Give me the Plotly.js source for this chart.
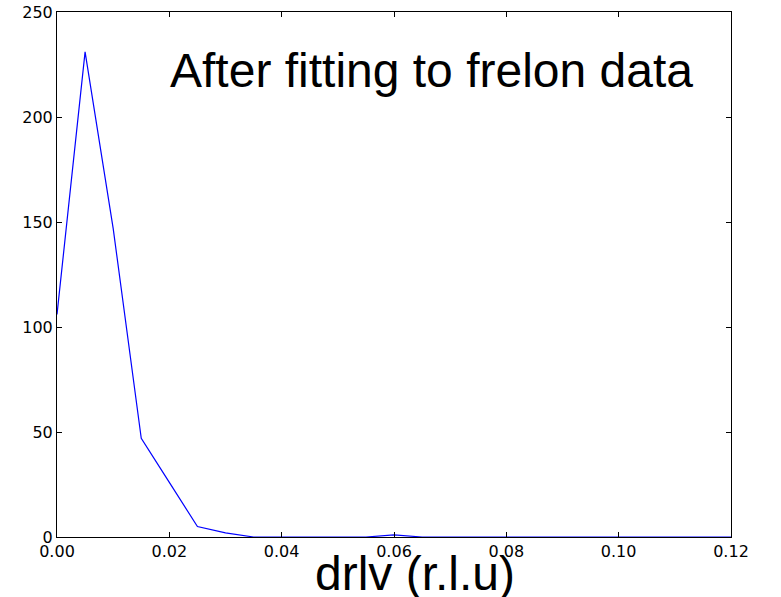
<!DOCTYPE html>
<html>
<head>
<meta charset="utf-8">
<script src="https://cdn.plot.ly/plotly-3.0.1.min.js"></script>
<style>html,body{margin:0;padding:0;background:#fff;}</style>
</head>
<body>
<div id="chart" style="width:781px;height:597px;"></div>
<script>
var drlv = [0.000, 0.005, 0.010, 0.015, 0.020, 0.025, 0.030, 0.035, 0.040, 0.045, 0.050, 0.055, 0.060, 0.065, 0.070, 0.075, 0.080, 0.085, 0.090, 0.095, 0.100, 0.105, 0.110, 0.115, 0.120];
var counts = [106, 231, 147, 47, 26, 5, 2, 0, 0, 0, 0, 0, 1, 0, 0, 0, 0, 0, 0, 0, 0, 0, 0, 0, 0];
var xTicks = [0.00, 0.02, 0.04, 0.06, 0.08, 0.10, 0.12];
var xTickText = ["0.00", "0.02", "0.04", "0.06", "0.08", "0.10", "0.12"];
var yTicks = [0, 50, 100, 150, 200, 250];
var annotationText = "After fitting to frelon data";
var xLabel = "drlv (r.l.u)";

var trace = {
  x: drlv,
  y: counts,
  type: 'scatter',
  mode: 'lines',
  line: {color: '#0000ff', width: 1.2},
  hoverinfo: 'none'
};

var axisCommon = {
  showgrid: false,
  zeroline: false,
  showline: true,
  linecolor: '#000',
  linewidth: 1,
  mirror: 'allticks',
  ticks: 'inside',
  ticklen: 5,
  tickcolor: '#000',
  tickwidth: 1,
  tickfont: {family: 'DejaVu Sans', size: 16, color: '#000'}
};

var layout = {
  width: 781,
  height: 597,
  margin: {l: 57, r: 50, t: 12, b: 60},
  paper_bgcolor: '#fff',
  plot_bgcolor: '#fff',
  showlegend: false,
  xaxis: Object.assign({}, axisCommon, {
    range: [0, 0.12],
    tickmode: 'array',
    tickvals: xTicks,
    ticktext: xTickText
  }),
  yaxis: Object.assign({}, axisCommon, {
    range: [0, 250],
    tickmode: 'array',
    tickvals: yTicks,
    ticktext: yTicks.map(String)
  }),
  annotations: [
    {
      text: annotationText,
      xref: 'paper', yref: 'paper',
      x: 0.1647, y: 0.8895,
      xanchor: 'left', yanchor: 'middle',
      showarrow: false,
      font: {family: 'Liberation Sans', size: 48, color: '#000'}
    },
    {
      text: xLabel,
      xref: 'paper', yref: 'paper',
      x: 0.531, y: -0.0693,
      xanchor: 'center', yanchor: 'middle',
      showarrow: false,
      font: {family: 'Liberation Sans', size: 48, color: '#000'}
    }
  ]
};

Plotly.newPlot('chart', [trace], layout, {displayModeBar: false, staticPlot: true});
</script>
</body>
</html>
